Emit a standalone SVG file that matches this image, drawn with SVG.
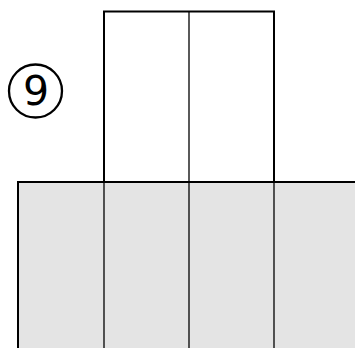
<svg xmlns="http://www.w3.org/2000/svg" width="355" height="348" viewBox="0 0 355 348">
<style>
.edge{stroke:#000;stroke-width:2}
.inner{stroke:#000;stroke-width:1.3}
.lbl{font-family:"DejaVu Sans","Liberation Sans",sans-serif;font-size:41px;fill:#000}
</style>
<rect width="355" height="348" fill="#fff"/>
<g id="base">
<rect x="18" y="182" width="350" height="180" fill="#e4e4e4" class="edge"/>
<line x1="104" y1="182" x2="104" y2="348" class="inner"/>
<line x1="189" y1="182" x2="189" y2="348" class="inner"/>
<line x1="274" y1="182" x2="274" y2="348" class="inner"/>
</g>
<g id="top">
<rect x="104" y="11.5" width="170" height="170.5" fill="#fff" class="edge"/>
<line x1="189" y1="11.5" x2="189" y2="182" class="inner"/>
</g>
<g id="badge">
<circle cx="35.5" cy="91" r="26.5" fill="#fff" stroke="#000" stroke-width="2.3"/>
<text x="36" y="105" text-anchor="middle" class="lbl">9</text>
</g>
<g id="connectors"/>
</svg>
